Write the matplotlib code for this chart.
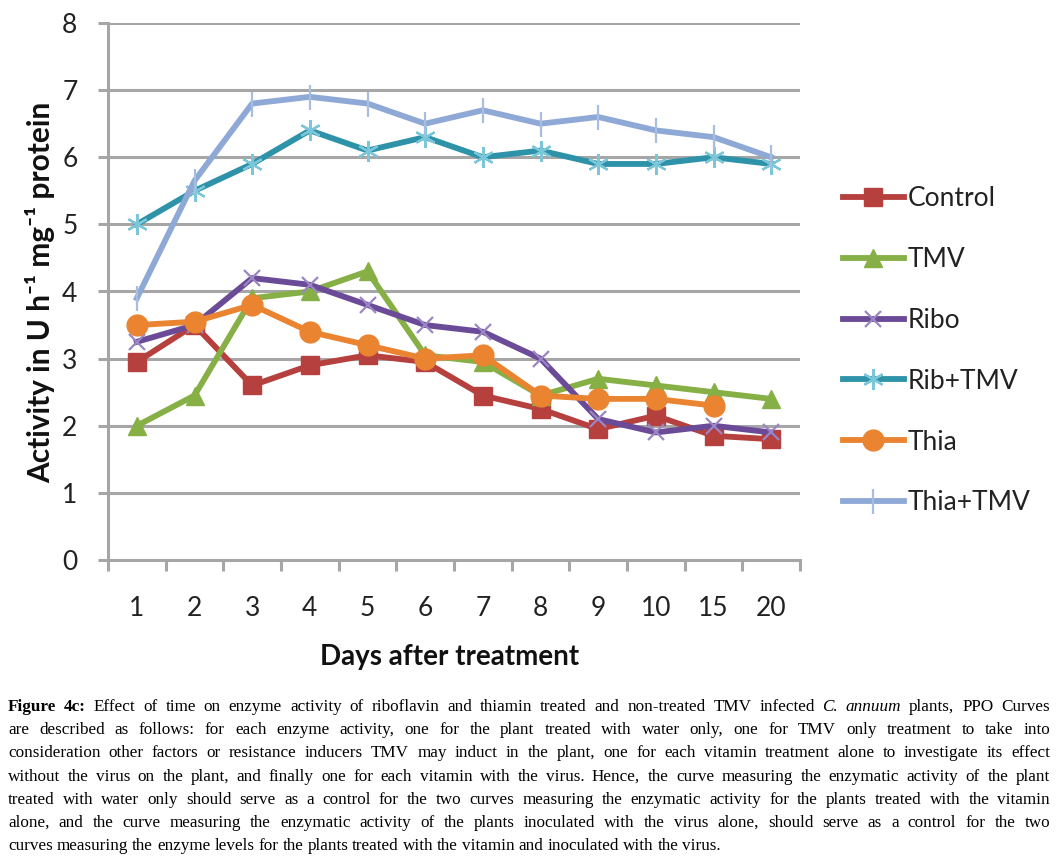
import numpy as np
import matplotlib
matplotlib.use('Agg')
from matplotlib import pyplot as plt

# Данные графика
days = ['1', '2', '3', '4', '5', '6', '7', '8', '9', '10', '15', '20']
control = [2.95, 3.5, 2.6, 2.9, 3.05, 2.95, 2.45, 2.25, 1.95, 2.15, 1.85, 1.8]
tmv = [2.0, 2.45, 3.9, 4.0, 4.3, 3.05, 2.95, 2.45, 2.7, 2.6, 2.5, 2.4]
ribo = [3.25, 3.5, 4.2, 4.1, 3.8, 3.5, 3.4, 3.0, 2.1, 1.9, 2.0, 1.9]
rib_tmv = [5.0, 5.5, 5.9, 6.4, 6.1, 6.3, 6.0, 6.1, 5.9, 5.9, 6.0, 5.9]
thia = [3.5, 3.55, 3.8, 3.4, 3.2, 3.0, 3.05, 2.45, 2.4, 2.4, 2.3, np.nan]
thia_tmv = [3.9, 5.65, 6.8, 6.9, 6.8, 6.5, 6.7, 6.5, 6.6, 6.4, 6.3, 6.0]

series_names = ['Control', 'TMV', 'Ribo', 'Rib+TMV', 'Thia', 'Thia+TMV']

caption_lines = [
    "Figure 4c: Effect of time on enzyme activity of riboflavin and thiamin treated and non-treated TMV infected C. annuum plants, PPO Curves",
    "are described as follows: for each enzyme activity, one for the plant treated with water only, one for TMV only treatment to take into",
    "consideration other factors or resistance inducers TMV may induct in the plant, one for each vitamin treatment alone to investigate its effect",
    "without the virus on the plant, and finally one for each vitamin with the virus. Hence, the curve measuring the enzymatic activity of the plant",
    "treated with water only should serve as a control for the two curves measuring the enzymatic activity for the plants treated with the vitamin",
    "alone, and the curve measuring the enzymatic activity of the plants inoculated with the virus alone, should serve as a control for the two",
    "curves measuring the enzyme levels for the plants treated with the vitamin and inoculated with the virus.",
]

W, H = 1056, 863
chart_font = ['Lato', 'DejaVu Sans']
plt.rcParams['font.family'] = chart_font

fig = plt.figure(figsize=(W / 100, H / 100), dpi=100)
ax = fig.add_axes([108 / W, 1 - 560 / H, (800 - 108) / W, (560 - 23) / H])

x = np.arange(len(days))
styles = [
    (control, dict(color='#B5403E', marker='s', markersize=13, mfc='#B5403E', mec='#B5403E')),
    (tmv, dict(color='#86B045', marker='^', markersize=13, mfc='#86B045', mec='#86B045')),
    (ribo, dict(color='#6B4A98', marker='x', markersize=12, mec='#9A86C4', mew=1.6)),
    (rib_tmv, dict(color='#2E93A9', marker=(6, 2, 0), markersize=15, mec='#7CC6DA', mew=1.6)),
    (thia, dict(color='#EA8430', marker='o', markersize=15, mfc='#EA8430', mec='#EA8430')),
    (thia_tmv, dict(color='#8FA9D6', marker='|', markersize=18, mec='#A8BEE0', mew=1.6)),
]
for (vals, st), name in zip(styles, series_names):
    ax.plot(x, vals, lw=4.2, label=name, solid_joinstyle='round', **st)

ax.set_xlim(-0.5, len(days) - 0.5)
ax.set_ylim(0, 8)
ax.set_yticks(range(0, 9))
ax.set_xticks(x)
ax.set_xticklabels(days)
ax.set_xticks(np.arange(-0.5, len(days)), minor=True)
ax.yaxis.grid(True, color='#A6A6A6', lw=2.2)
ax.set_axisbelow(True)
for s in ['top', 'right']:
    ax.spines[s].set_visible(False)
for s in ['left', 'bottom']:
    ax.spines[s].set_color('#A6A6A6')
    ax.spines[s].set_linewidth(2.2)
ax.tick_params(axis='y', length=7, width=2.2, color='#A6A6A6', pad=15,
               labelsize=19, labelcolor='#222222')
ax.tick_params(axis='x', which='major', length=0, pad=26, labelsize=19,
               labelcolor='#222222')
ax.tick_params(axis='x', which='minor', length=8, width=2.2, color='#A6A6A6')

fig.text(450 / W, 1 - 657 / H, 'Days after treatment', ha='center', va='center',
         fontsize=20, fontweight='bold', color='#111111')
fig.text(40 / W, 1 - 292 / H, 'Activity in U h⁻¹ mg⁻¹ protein', ha='center',
         va='center', rotation=90, fontsize=21.5, fontweight='bold', color='#111111')

fig.legend(loc='upper left', bbox_to_anchor=(843 / W, 1 - 186 / H), frameon=False,
           fontsize=19, handlelength=2.3, handletextpad=0.15, labelspacing=1.36,
           borderpad=0, borderaxespad=0, labelcolor='#222222')

# Подпись с выравниванием по ширине
fig.canvas.draw()
r = fig.canvas.get_renderer()
cap_left, cap_right = 8, 1050
for i, line in enumerate(caption_lines):
    words = line.split(' ')
    items = []
    for k, w in enumerate(words):
        kw = dict(fontsize=12.3, family='Liberation Serif', va='baseline', color='black')
        if i == 0 and k < 2:
            kw['fontweight'] = 'bold'
        if w in ('C.', 'annuum'):
            kw['style'] = 'italic'
        items.append(fig.text(0, 1 - (711 + i * 23.2) / H, w, **kw))
    widths = [t.get_window_extent(r).width for t in items]
    if i < len(caption_lines) - 1:
        gap = (cap_right - cap_left - sum(widths)) / (len(items) - 1)
    else:
        gap = 4.0
    pos = cap_left
    for t, w in zip(items, widths):
        t.set_x(pos / W)
        pos += w + gap

fig.savefig('out.png', dpi=100)
